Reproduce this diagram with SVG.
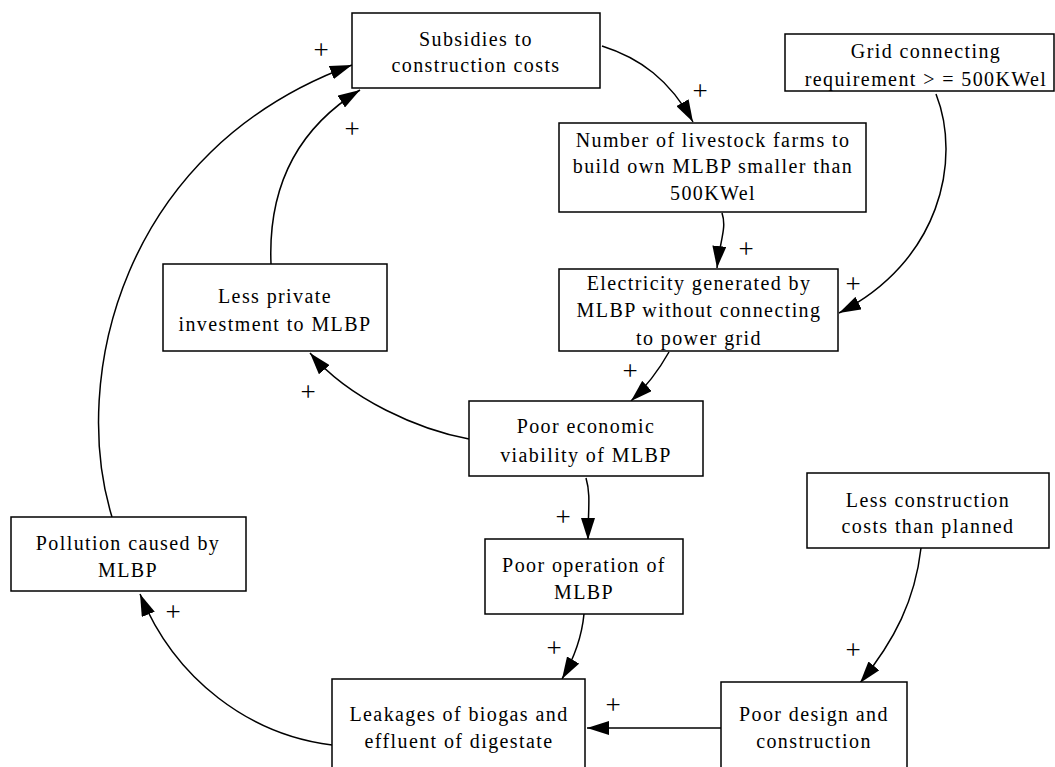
<svg xmlns="http://www.w3.org/2000/svg" width="1055" height="767" viewBox="0 0 1055 767">
<style>
.box{fill:#fff;stroke:#000;stroke-width:1.5}
.t{font-size:20px;letter-spacing:1.4px;fill:#000;text-anchor:middle}
.c{fill:none;stroke:#000;stroke-width:1.5;marker-end:url(#ah)}
.p{font-size:27px;fill:#000;text-anchor:middle}
</style>
<defs>
<marker id="ah" viewBox="0 0 22 14" refX="22" refY="7" markerUnits="userSpaceOnUse" markerWidth="22" markerHeight="14" orient="auto">
<path d="M0,0 L22,7 L0,14 z" fill="#000"/>
</marker>
</defs>
<rect width="1055" height="767" fill="#fff"/>
<g font-family="Liberation Serif, Times New Roman, serif">
<g id="connectors">
<path class="c" d="M602,46 C640,58 670,80 693,122"/>
<path class="c" d="M112,517 C70,380 120,150 352,65"/>
<path class="c" d="M271,264 C268,190 295,130 360,90"/>
<path class="c" d="M722,213 C727,228 720,240 717,268"/>
<path class="c" d="M936,94 C962,160 940,262 839,313"/>
<path class="c" d="M669,352 C660,368 648,385 631,401"/>
<path class="c" d="M469,439 C420,430 350,400 310,353"/>
<path class="c" d="M586,478 C591,495 588,510 588,540"/>
<path class="c" d="M584,614 C582,635 576,655 562,679"/>
<path class="c" d="M921,548 C915,600 895,640 860,683"/>
<path class="c" d="M723,728 L587,728"/>
<path class="c" d="M332,745 C250,735 175,680 140,594"/>
<text class="p" x="700" y="100">+</text>
<text class="p" x="321" y="59">+</text>
<text class="p" x="352" y="138">+</text>
<text class="p" x="746" y="258">+</text>
<text class="p" x="853" y="293">+</text>
<text class="p" x="630" y="380">+</text>
<text class="p" x="308" y="401">+</text>
<text class="p" x="563" y="526">+</text>
<text class="p" x="554" y="657">+</text>
<text class="p" x="853" y="659">+</text>
<text class="p" x="613" y="714">+</text>
<text class="p" x="173" y="621">+</text>
</g>
<g id="subsidies">
<rect class="box" x="352" y="13" width="248" height="75"/>
<text class="t" x="476" y="46">Subsidies to</text>
<text class="t" x="476" y="72">construction costs</text>
</g>
<g id="grid">
<rect class="box" x="785" y="34" width="269" height="57"/>
<text class="t" x="926" y="58">Grid connecting</text>
<text class="t" x="926" y="86">requirement &gt; = 500KWel</text>
</g>
<g id="number">
<rect class="box" x="559" y="123" width="307" height="89"/>
<text class="t" x="713" y="147">Number of livestock farms to</text>
<text class="t" x="713" y="173">build own MLBP smaller than</text>
<text class="t" x="713" y="200">500KWel</text>
</g>
<g id="electricity">
<rect class="box" x="559" y="269" width="279" height="82"/>
<text class="t" x="699" y="290">Electricity generated by</text>
<text class="t" x="699" y="317">MLBP without connecting</text>
<text class="t" x="699" y="345">to power grid</text>
</g>
<g id="private">
<rect class="box" x="163" y="264" width="224" height="87"/>
<text class="t" x="275" y="303">Less private</text>
<text class="t" x="275" y="331">investment to MLBP</text>
</g>
<g id="economic">
<rect class="box" x="469" y="401" width="234" height="75"/>
<text class="t" x="586" y="433">Poor economic</text>
<text class="t" x="586" y="462">viability of MLBP</text>
</g>
<g id="operation">
<rect class="box" x="485" y="539" width="198" height="75"/>
<text class="t" x="584" y="572">Poor operation of</text>
<text class="t" x="584" y="599">MLBP</text>
</g>
<g id="lessconstruction">
<rect class="box" x="807" y="473" width="242" height="75"/>
<text class="t" x="928" y="507">Less construction</text>
<text class="t" x="928" y="533">costs than planned</text>
</g>
<g id="pollution">
<rect class="box" x="11" y="517" width="235" height="74"/>
<text class="t" x="128" y="550">Pollution caused by</text>
<text class="t" x="128" y="577">MLBP</text>
</g>
<g id="design">
<rect class="box" x="721" y="682" width="186" height="95"/>
<text class="t" x="814" y="721">Poor design and</text>
<text class="t" x="814" y="748">construction</text>
</g>
<g id="leakages">
<rect class="box" x="332" y="679" width="253" height="98"/>
<text class="t" x="459" y="721">Leakages of biogas and</text>
<text class="t" x="459" y="748">effluent of digestate</text>
</g>
</g>
</svg>
